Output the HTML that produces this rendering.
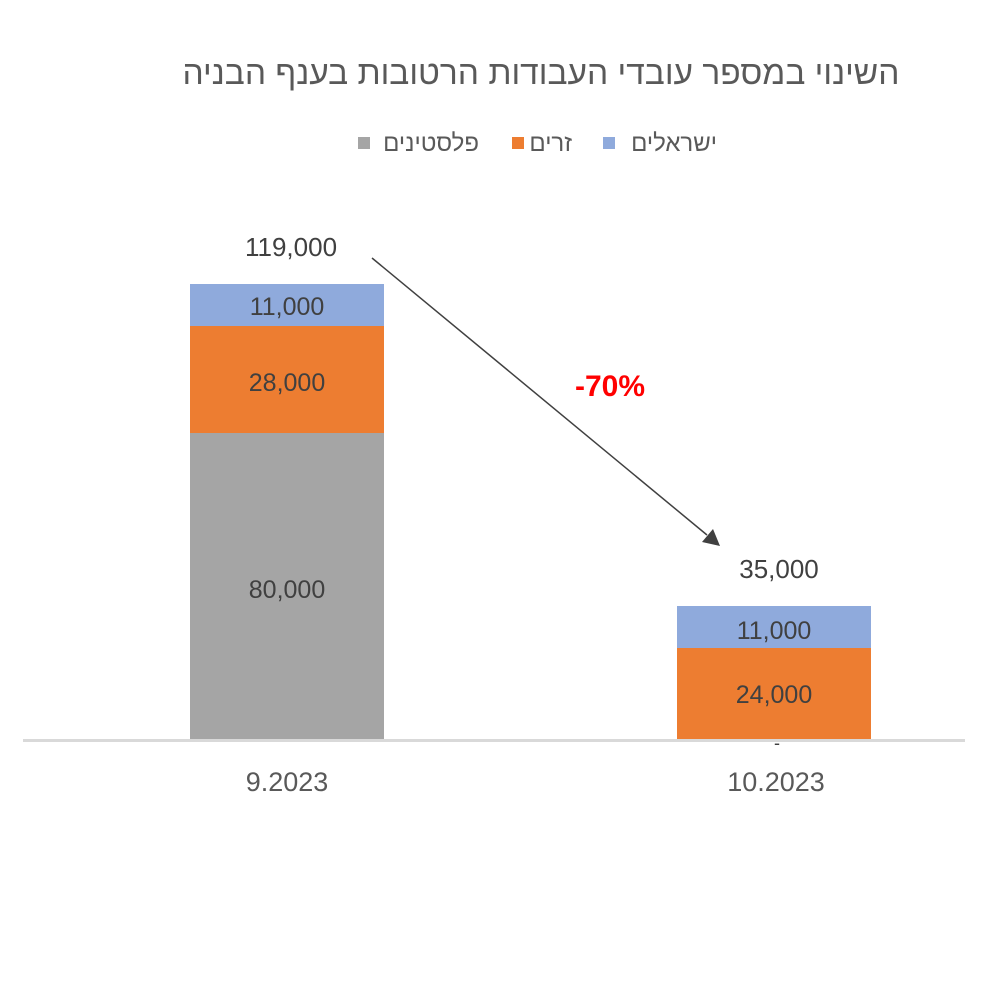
<!DOCTYPE html>
<html><head><meta charset="utf-8"><style>
html,body{margin:0;padding:0;background:#fff;}
svg{display:block;}
text{font-family:"Liberation Sans","DejaVu Sans",sans-serif;}
</style></head><body>
<svg width="1000" height="985" viewBox="0 0 1000 985" xmlns="http://www.w3.org/2000/svg">
<rect width="1000" height="985" fill="#fff"/>
<text x="541" y="84" text-anchor="middle" font-size="33.5" fill="#595959" direction="rtl">השינוי במספר עובדי העבודות הרטובות בענף הבניה</text>
<!-- legend -->
<rect x="603" y="137" width="12" height="12" fill="#8faadc"/>
<text x="717" y="151" text-anchor="start" font-size="24" fill="#595959" direction="rtl">ישראלים</text>
<rect x="512" y="137" width="12" height="12" fill="#ed7d31"/>
<text x="572" y="151" text-anchor="start" font-size="24" fill="#595959" direction="rtl">זרים</text>
<rect x="358" y="137" width="12" height="12" fill="#a5a5a5"/>
<text x="479" y="151" text-anchor="start" font-size="24" fill="#595959" direction="rtl">פלסטינים</text>
<!-- bars -->
<rect x="190" y="284" width="194" height="42" fill="#8faadc"/>
<rect x="190" y="326" width="194" height="107" fill="#ed7d31"/>
<rect x="190" y="433" width="194" height="307" fill="#a5a5a5"/>
<rect x="677" y="606" width="194" height="42" fill="#8faadc"/>
<rect x="677" y="648" width="194" height="92" fill="#ed7d31"/>
<line x1="23" y1="740.5" x2="965" y2="740.5" stroke="#d9d9d9" stroke-width="3"/>
<g font-size="25" fill="#404040" text-anchor="middle">
<text x="287" y="315">11,000</text>
<text x="287" y="391">28,000</text>
<text x="287" y="598">80,000</text>
<text x="291" y="256" font-size="26">119,000</text>
<text x="774" y="639">11,000</text>
<text x="774" y="703">24,000</text>
<text x="779" y="578" font-size="26">35,000</text>
<text x="777" y="749" font-size="18">-</text>
</g>
<g font-size="27" fill="#595959" text-anchor="middle">
<text x="287" y="791">9.2023</text>
<text x="776" y="791">10.2023</text>
</g>
<text x="610" y="396" text-anchor="middle" font-size="30" font-weight="bold" fill="#ff0000">-70%</text>
<line x1="372" y1="258" x2="707" y2="535" stroke="#404040" stroke-width="1.5"/>
<polygon points="720,546 702,542 713,529" fill="#404040"/>
</svg>
</body></html>
